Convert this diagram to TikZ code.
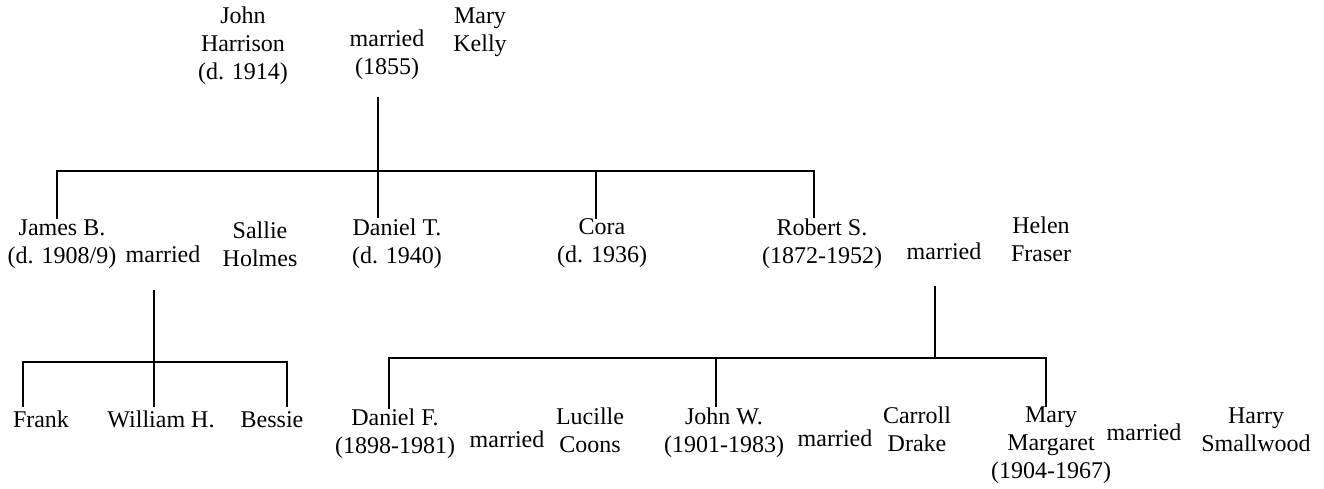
\documentclass[tikz,border=0pt]{standalone}
\usepackage{fontspec}
\setmainfont{Liberation Serif}
\begin{document}
\begin{tikzpicture}[x=1pt,y=-1pt,
  person/.style={inner sep=0pt, align=center, font=\fontsize{24}{28}\selectfont,
    execute at begin node=\strut, execute at end node=\strut},
  link/.style={line width=2.5pt, line join=miter}]
\useasboundingbox (0,0) rectangle (1324,488);
% generation 1
\node[person] (jh) at (243,47.4) {John\\Harrison\\(d. 1914)};
\node[person] (m1) at (387,56.4) {married\\(1855)};
\node[person] (mk) at (480,33.4) {Mary\\Kelly};
% generation 2
\node[person] (jb) at (62,245.4) {James B.\\(d. 1908/9)};
\node[person] (m2) at (163,256.4) {married};
\node[person] (sh) at (260,248.4) {Sallie\\Holmes};
\node[person] (dt) at (397,245) {Daniel T.\\(d. 1940)};
\node[person] (co) at (602,245) {Cora\\(d. 1936)};
\node[person] (rs) at (822,245) {Robert S.\\(1872-1952)};
\node[person] (m3) at (944,253.4) {married};
\node[person] (hf) at (1041,243.4) {Helen\\Fraser};
% generation 3
\node[person] (fr) at (41,421.4) {Frank};
\node[person] (wh) at (161,421.4) {William H.};
\node[person] (be) at (272,421.4) {Bessie};
\node[person] (df) at (395,435.4) {Daniel F.\\(1898-1981)};
\node[person] (m4) at (507,441.4) {married};
\node[person] (lc) at (590,434) {Lucille\\Coons};
\node[person] (jw) at (724,434) {John W.\\(1901-1983)};
\node[person] (m5) at (835,440.4) {married};
\node[person] (cd) at (917,433) {Carroll\\Drake};
\node[person] (mm) at (1051,447) {Mary\\Margaret\\(1904-1967)};
\node[person] (m6) at (1144,434.4) {married};
\node[person] (hs) at (1256,433.4) {Harry\\Smallwood};
% connectors: Harrison family
\coordinate (t0) at (378,97);
\coordinate (tl) at (57,171);
\coordinate (tc) at (596,171);
\coordinate (tr) at (814,171);
\draw[link] (t0) -- (t0 |- dt.north);
\draw[link] (tl |- jb.north) -- (tl) -- (tr) -- (tr |- rs.north);
\draw[link] (tc) -- (tc |- co.north);
% James B. family
\coordinate (b0) at (154,290);
\coordinate (bl) at (23,362);
\coordinate (br) at (287,362);
\draw[link] (b0) -- (b0 |- wh.north);
\draw[link] (bl |- fr.north) -- (bl) -- (br) -- (br |- be.north);
% Robert S. family
\coordinate (r0) at (935,286);
\coordinate (r1) at (935,358);
\coordinate (rl) at (389,358);
\coordinate (rc) at (716,358);
\coordinate (rr) at (1046,358);
\draw[link] (r0) -- (r1);
\draw[link] (rl |- df.north) -- (rl) -- (rr) -- (rr |- mm.north);
\draw[link] (rc) -- (rc |- jw.north);
\end{tikzpicture}
\end{document}
